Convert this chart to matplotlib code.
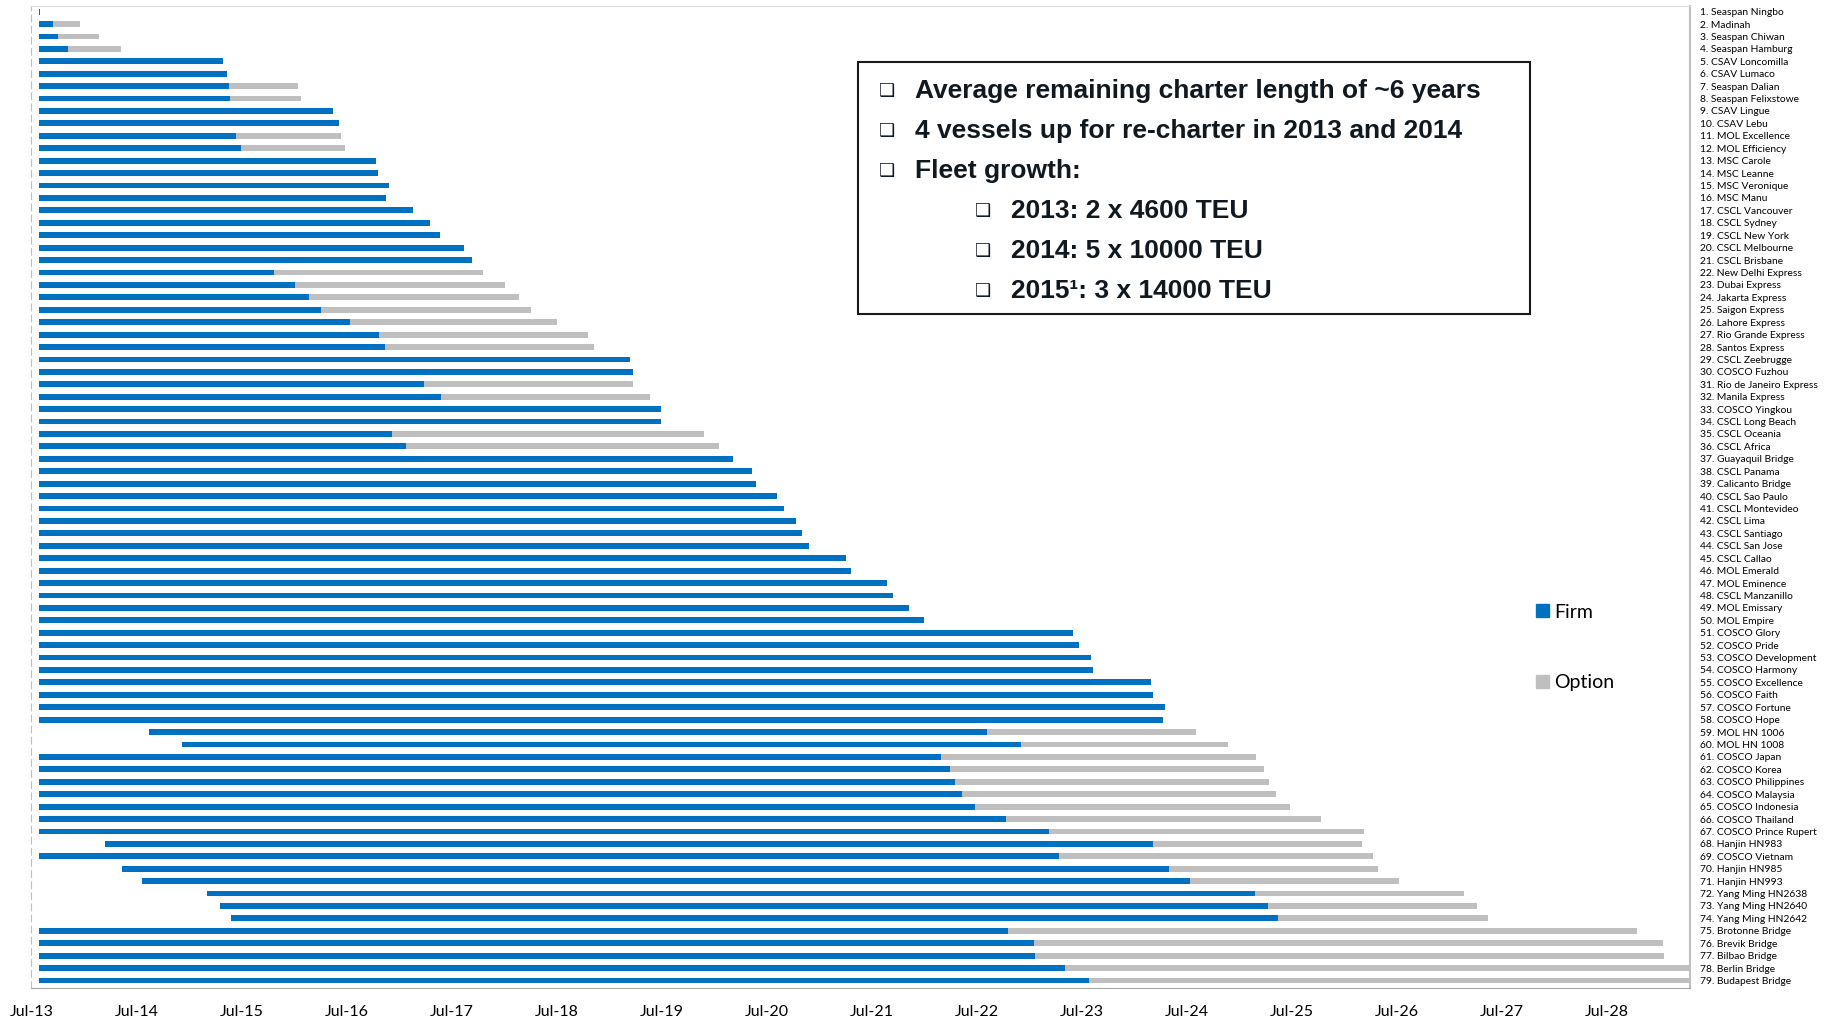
import numpy as np
import matplotlib
matplotlib.use("Agg")
import matplotlib.pyplot as plt
from matplotlib.patches import Patch, Rectangle

# charter data, in decimal years (Jul-YY tick sits at YY + 0.5)
vessels = [
    "Seaspan Ningbo", "Madinah", "Seaspan Chiwan", "Seaspan Hamburg", "CSAV Loncomilla",
    "CSAV Lumaco", "Seaspan Dalian", "Seaspan Felixstowe", "CSAV Lingue", "CSAV Lebu",
    "MOL Excellence", "MOL Efficiency", "MSC Carole", "MSC Leanne", "MSC Veronique",
    "MSC Manu", "CSCL Vancouver", "CSCL Sydney", "CSCL New York", "CSCL Melbourne",
    "CSCL Brisbane", "New Delhi Express", "Dubai Express", "Jakarta Express", "Saigon Express",
    "Lahore Express", "Rio Grande Express", "Santos Express", "CSCL Zeebrugge", "COSCO Fuzhou",
    "Rio de Janeiro Express", "Manila Express", "COSCO Yingkou", "CSCL Long Beach", "CSCL Oceania",
    "CSCL Africa", "Guayaquil Bridge", "CSCL Panama", "Calicanto Bridge", "CSCL Sao Paulo",
    "CSCL Montevideo", "CSCL Lima", "CSCL Santiago", "CSCL San Jose", "CSCL Callao",
    "MOL Emerald", "MOL Eminence", "CSCL Manzanillo", "MOL Emissary", "MOL Empire",
    "COSCO Glory", "COSCO Pride", "COSCO Development", "COSCO Harmony", "COSCO Excellence",
    "COSCO Faith", "COSCO Fortune", "COSCO Hope", "MOL HN 1006", "MOL HN 1008",
    "COSCO Japan", "COSCO Korea", "COSCO Philippines", "COSCO Malaysia", "COSCO Indonesia",
    "COSCO Thailand", "COSCO Prince Rupert", "Hanjin HN983", "COSCO Vietnam", "Hanjin HN985",
    "Hanjin HN993", "Yang Ming HN2638", "Yang Ming HN2640", "Yang Ming HN2642", "Brotonne Bridge",
    "Brevik Bridge", "Bilbao Bridge", "Berlin Bridge", "Budapest Bridge",
]

start = [2013.57] * 79
start[58] = 2014.62
start[59] = 2014.93
start[67] = 2014.20
start[69] = 2014.36
start[70] = 2014.55
start[71] = 2015.17
start[72] = 2015.30
start[73] = 2015.40

firm_end = [
    2013.58, 2013.71, 2013.75, 2013.85, 2015.32, 2015.36, 2015.38, 2015.39, 2016.37, 2016.43,
    2015.45, 2015.50, 2016.78, 2016.80, 2016.91, 2016.88, 2017.13, 2017.30, 2017.39, 2017.62,
    2017.70, 2015.81, 2016.01, 2016.14, 2016.26, 2016.53, 2016.81, 2016.87, 2019.20, 2019.23,
    2017.24, 2017.40, 2019.50, 2019.50, 2016.93, 2017.07, 2020.18, 2020.36, 2020.40, 2020.60,
    2020.67, 2020.78, 2020.84, 2020.91, 2021.26, 2021.31, 2021.65, 2021.71, 2021.86, 2022.00,
    2023.42, 2023.48, 2023.59, 2023.61, 2024.16, 2024.18, 2024.30, 2024.28, 2022.60, 2022.92,
    2022.16, 2022.25, 2022.30, 2022.36, 2022.49, 2022.78, 2023.19, 2024.18, 2023.29, 2024.33,
    2024.53, 2025.15, 2025.28, 2025.37, 2022.80, 2023.05, 2023.06, 2023.34, 2023.57,
]

nan = np.nan
option_end = [
    nan, 2013.96, 2014.14, 2014.35, nan, nan, 2016.04, 2016.07, nan, nan,
    2016.45, 2016.49, nan, nan, nan, nan, nan, nan, nan, nan,
    nan, 2017.80, 2018.01, 2018.14, 2018.26, 2018.51, 2018.80, 2018.86, nan, nan,
    2019.23, 2019.39, nan, nan, 2019.91, 2020.05, nan, nan, nan, nan,
    nan, nan, nan, nan, nan, nan, nan, nan, nan, nan,
    nan, nan, nan, nan, nan, nan, nan, nan, 2024.59, 2024.90,
    2025.16, 2025.24, 2025.29, 2025.35, 2025.49, 2025.78, 2026.19, 2026.17, 2026.28, 2026.32,
    2026.52, 2027.14, 2027.27, 2027.37, 2028.79, 2029.04, 2029.05, 2029.60, 2029.80,
]

tick_years = list(range(2013, 2029))
tick_labels = [f"Jul-{y % 100:02d}" for y in tick_years]

box_lines = [
    (0, "Average remaining charter length of ~6 years"),
    (0, "4 vessels up for re-charter in 2013 and 2014"),
    (0, "Fleet growth:"),
    (1, "2013: 2 x 4600 TEU"),
    (1, "2014: 5 x 10000 TEU"),
    (1, "2015\u00b9: 3 x 14000 TEU"),
]

FIRM = "#0070C0"
OPTION = "#BFBFBF"

fig = plt.figure(figsize=(18.39, 10.22), dpi=100)
ax = fig.add_axes([0.0171, 0.0333, 0.9021, 0.9608])

start = np.array(start)
firm_end = np.array(firm_end)
option_end = np.array(option_end)
y = np.arange(len(vessels))
h = 0.47

ax.barh(y, firm_end - start, left=start, height=h, color=FIRM)
has_opt = ~np.isnan(option_end)
ax.barh(y[has_opt], option_end[has_opt] - firm_end[has_opt], left=firm_end[has_opt],
        height=h, color=OPTION)

ax.set_xlim(2013.5, 2029.3)
ax.set_ylim(78.6, -0.45)

ax.set_xticks([yr + 0.5 for yr in tick_years])
ax.set_xticklabels(tick_labels, fontsize=11.5, family="Lato")
ax.tick_params(axis="x", length=0, pad=12)

ax.yaxis.tick_right()
ax.set_yticks(y)
ax.set_yticklabels([f"{i + 1}. {n}" for i, n in enumerate(vessels)], fontsize=7.4, family="Lato")
ax.tick_params(axis="y", length=0, pad=7)

ax.spines["top"].set_color("#D9D9D9")
ax.spines["right"].set_color("#BFBFBF")
ax.spines["right"].set_linewidth(1.5)
ax.spines["bottom"].set_color("#A6A6A6")
ax.spines["left"].set_color("#BFBFBF")
ax.spines["left"].set_linestyle((0, (6, 4)))

# legend
fig.legend(handles=[Patch(color=FIRM, label="Firm"), Patch(color=OPTION, label="Option")],
           loc="upper left", bbox_to_anchor=(0.8300, 1 - 594 / 1022), frameon=False,
           borderpad=0, handlelength=0.65, handleheight=0.65, handletextpad=0.3,
           labelspacing=2.75, prop={"family": "Lato", "size": 14})

# text box
fig.patches.append(Rectangle((0.4668, 0.6928), 0.3654, 0.2465, transform=fig.transFigure,
                             fill=False, edgecolor="#1a1a1a", linewidth=1.5))
line_y = [0.9109, 0.8718, 0.8326, 0.7935, 0.7544, 0.7157]
for (level, txt), ly in zip(box_lines, line_y):
    bx = 0.4821 if level == 0 else 0.5344
    tx = 0.4974 if level == 0 else 0.5498
    fig.text(bx, ly, "\u2751", ha="center", va="center", fontsize=13, fontweight="bold",
             family=["DejaVu Sans"], color="#101820")
    fig.text(tx, ly, txt, ha="left", va="center", fontsize=19, fontweight="bold",
             family=["Liberation Sans", "DejaVu Sans"], color="#101820")

fig.savefig("out.png", dpi=100)
